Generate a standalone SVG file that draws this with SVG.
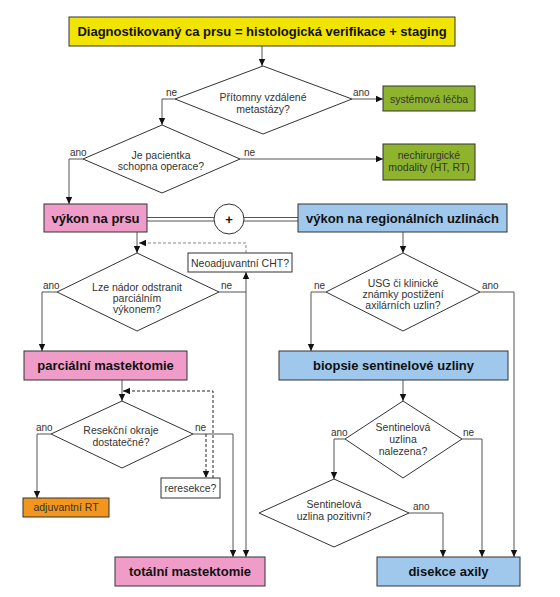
<svg xmlns="http://www.w3.org/2000/svg" width="560" height="597" viewBox="0 0 560 597">
<defs>
<marker id="arr" markerUnits="userSpaceOnUse" markerWidth="8" markerHeight="8" refX="7" refY="4" orient="auto">
<path d="M0,0.8 L7,4 L0,7.2 Z" fill="#111"/>
</marker>
</defs>
<style>
.box{stroke:#333;stroke-width:1}
.yellow{fill:#f1e400}
.green{fill:#8db42c}
.pink{fill:#f09cc8}
.blue{fill:#a0c8ec}
.orange{fill:#f2961e}
.white{fill:#fff}
.dia{fill:#fff;stroke:#333;stroke-width:1}
.big{font-family:"Liberation Sans",Arial,sans-serif;font-size:13px;font-weight:bold;fill:#111;text-anchor:middle}
.sm{font-family:"Liberation Sans",Arial,sans-serif;font-size:10.5px;fill:#333;text-anchor:middle}
.lbl{font-family:"Liberation Sans",Arial,sans-serif;font-size:10px;fill:#333}
.ln{fill:none;stroke:#555;stroke-width:1}
.dash{fill:none;stroke:#222;stroke-width:1;stroke-dasharray:3,2}
.dashg{fill:none;stroke:#888;stroke-width:1;stroke-dasharray:3,2}
.dbl{fill:none;stroke:#555;stroke-width:1}
</style>
<rect width="560" height="597" fill="#fff"/>

<g id="connectors">
<path class="ln" d="M262,46 V66" marker-end="url(#arr)"/>
<path class="ln" d="M352,99 H383" marker-end="url(#arr)"/>
<path class="ln" d="M175,99 H162 V125" marker-end="url(#arr)"/>
<path class="ln" d="M240,159 H383" marker-end="url(#arr)"/>
<path class="ln" d="M83,159 H69 V204" marker-end="url(#arr)"/>
<path class="dbl" d="M147,217.5 H214 M147,221 H214 M244,217.5 H298 M244,221 H298"/>
<path class="ln" d="M137,232 V253" marker-end="url(#arr)"/>
<path class="ln" d="M219,292 H246 V557" marker-end="url(#arr)"/>
<path class="ln" d="M246,292 V272" marker-end="url(#arr)"/>
<path class="dashg" d="M246,253 V243 H139" marker-end="url(#arr)"/>
<path class="ln" d="M57,292 H42 V351" marker-end="url(#arr)"/>
<path class="ln" d="M122,380 V401" marker-end="url(#arr)"/>
<path class="ln" d="M193,434 H233 V557" marker-end="url(#arr)"/>
<path class="dash" d="M206,434 V478" marker-end="url(#arr)"/>
<path class="dash" d="M213,478 V391 H123" marker-end="url(#arr)"/>
<path class="ln" d="M51,434 H37 V498" marker-end="url(#arr)"/>
<path class="ln" d="M403,232 V253" marker-end="url(#arr)"/>
<path class="ln" d="M326,292 H311 V351" marker-end="url(#arr)"/>
<path class="ln" d="M480,292 H514 V557" marker-end="url(#arr)"/>
<path class="ln" d="M403,380 V401" marker-end="url(#arr)"/>
<path class="ln" d="M345,439 H334 V479" marker-end="url(#arr)"/>
<path class="ln" d="M462,439 H482 V557" marker-end="url(#arr)"/>
<path class="ln" d="M409,513 H443 V557" marker-end="url(#arr)"/>
<text class="lbl" x="177" y="96" text-anchor="end">ne</text>
<text class="lbl" x="353" y="96">ano</text>
<text class="lbl" x="70" y="156">ano</text>
<text class="lbl" x="244" y="156">ne</text>
<text class="lbl" x="43" y="289">ano</text>
<text class="lbl" x="221" y="289">ne</text>
<text class="lbl" x="314" y="289">ne</text>
<text class="lbl" x="482" y="289">ano</text>
<text class="lbl" x="36" y="431">ano</text>
<text class="lbl" x="195" y="431">ne</text>
<text class="lbl" x="331" y="436">ano</text>
<text class="lbl" x="463" y="436">ne</text>
<text class="lbl" x="413" y="510">ano</text>
</g>

<g id="title">
<rect class="box yellow" x="69" y="17" width="386" height="29"/>
<text class="big" x="262" y="36">Diagnostikovaný ca prsu = histologická verifikace + staging</text>
</g>

<g id="d-metastazy">
<polygon class="dia" points="263,66 352,99 263,134 175,99"/>
<text class="sm" x="263" y="101">Přítomny vzdálené</text>
<text class="sm" x="263" y="113">metastázy?</text>
</g>

<g id="systemova">
<rect class="box green" x="383" y="86" width="92" height="25"/>
<text class="sm" x="429" y="103">systémová léčba</text>
</g>

<g id="d-schopna">
<polygon class="dia" points="162,125 240,159 162,193 83,159"/>
<text class="sm" x="161" y="159">Je pacientka</text>
<text class="sm" x="161" y="170">schopna operace?</text>
</g>

<g id="nechirurgicke">
<rect class="box green" x="383" y="144" width="92" height="36"/>
<text class="sm" x="429" y="159">nechirurgické</text>
<text class="sm" x="429" y="171">modality (HT, RT)</text>
</g>

<g id="vykon-prsu">
<rect class="box pink" x="44" y="204" width="103" height="28"/>
<text class="big" x="95.5" y="223">výkon na prsu</text>
</g>

<g id="plus">
<circle cx="229" cy="219" r="15" fill="#fff" stroke="#333" stroke-width="1"/>
<text class="big" x="229" y="223.5">+</text>
</g>

<g id="vykon-uzliny">
<rect class="box blue" x="298" y="204" width="209" height="28"/>
<text class="big" x="402.5" y="223">výkon na regionálních uzlinách</text>
</g>

<g id="neoadjuvantni">
<rect class="box white" x="188" y="253" width="104" height="19"/>
<text class="sm" x="240" y="266.5">Neoadjuvantní CHT?</text>
</g>

<g id="d-lze">
<polygon class="dia" points="137,253 219,292 137,331 57,292"/>
<text class="sm" x="137" y="291">Lze nádor odstranit</text>
<text class="sm" x="137" y="302">parciálním</text>
<text class="sm" x="137" y="313">výkonem?</text>
</g>

<g id="d-usg">
<polygon class="dia" points="403,253 480,292 403,331 326,292"/>
<text class="sm" x="403" y="287">USG či klinické</text>
<text class="sm" x="403" y="298">známky postižení</text>
<text class="sm" x="403" y="309">axilárních uzlin?</text>
</g>

<g id="parcialni">
<rect class="box pink" x="24" y="351" width="163" height="29"/>
<text class="big" x="105.5" y="370">parciální mastektomie</text>
</g>

<g id="biopsie">
<rect class="box blue" x="279" y="351" width="229" height="29"/>
<text class="big" x="393.5" y="370">biopsie sentinelové uzliny</text>
</g>

<g id="d-resekcni">
<polygon class="dia" points="122,401 193,434 122,468 51,434"/>
<text class="sm" x="121" y="434">Resekční okraje</text>
<text class="sm" x="121" y="446">dostatečné?</text>
</g>

<g id="reresekce">
<rect class="box white" x="161" y="478" width="59" height="20"/>
<text class="sm" x="190.5" y="492">reresekce?</text>
</g>

<g id="adjuvantni">
<rect class="box orange" x="23" y="498" width="86" height="19"/>
<text class="sm" x="66" y="511">adjuvantní RT</text>
</g>

<g id="d-nalezena">
<polygon class="dia" points="403,401 462,439 403,478 345,439"/>
<text class="sm" x="403" y="431">Sentinelová</text>
<text class="sm" x="403" y="443">uzlina</text>
<text class="sm" x="403" y="455">nalezena?</text>
</g>

<g id="d-pozitivni">
<polygon class="dia" points="334,479 409,513 334,547 259,513"/>
<text class="sm" x="334" y="508">Sentinelová</text>
<text class="sm" x="334" y="520">uzlina pozitivní?</text>
</g>

<g id="totalni">
<rect class="box pink" x="115" y="557" width="150" height="29"/>
<text class="big" x="190" y="576">totální mastektomie</text>
</g>

<g id="disekce">
<rect class="box blue" x="377" y="557" width="143" height="29"/>
<text class="big" x="448.5" y="576">disekce axily</text>
</g>
</svg>
